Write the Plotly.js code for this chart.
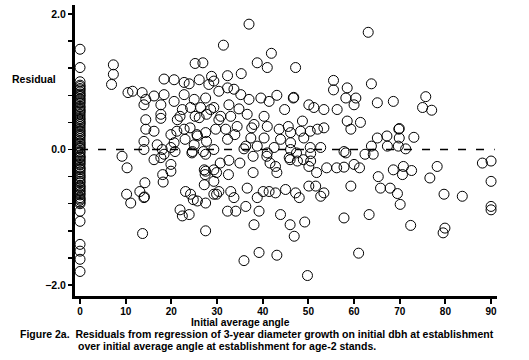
<!DOCTYPE html>
<html>
<head>
<meta charset="utf-8">
<script src="https://cdn.plot.ly/plotly-3.0.1.min.js"></script>
<style>
  html, body { margin: 0; padding: 0; background: #fff; }
  #chart { width: 529px; height: 360px; }
</style>
</head>
<body>
<div id="chart"></div>
<script>
// Points at an initial average angle of 0 (a dense stack in the reference)
const angleAtZero = [
  0,0,0,0,0,0,0,0,0,0, 0,0,0,0,0,0,0,0,0,0, 0,0,0,0,0,0,0,0,0,0, 0,0,0,0,0,0,0,0,0,0,
  0,0,0,0,0,0,0,0,0,0, 0,0,0,0,0,0,0,0,0,0, 0,0,0,0,0,0,0,0,0,0, 0,0,0,0,0,0,0,0
];
const residualAtZero = [
  1.48, 1.21, 1.00, 0.95, 0.93, 0.90, 0.88, 0.85, 0.82, 0.80, 0.78, 0.75, 0.73, 0.70, 0.68, 0.64, 0.62, 0.59, 0.57, 0.55,
  0.52, 0.49, 0.46, 0.44, 0.41, 0.39, 0.37, 0.34, 0.31, 0.28, 0.26, 0.23, 0.21, 0.19, 0.16, 0.13, 0.10, 0.08, 0.05, 0.03,
  0.01, -0.03, -0.05, -0.09, -0.11, -0.12, -0.15, -0.17, -0.20, -0.22, -0.26, -0.28, -0.30, -0.33, -0.36, -0.39, -0.41, -0.44, -0.47, -0.49,
  -0.53, -0.55, -0.57, -0.60, -0.62, -0.65, -0.67, -0.71, -0.73, -0.75, -0.78, -0.80, -0.91, -1.06, -1.40, -1.50, -1.62, -1.80
];

// Remaining stands: initial average angle (x) and residual (y)
const angle = [
  7.3, 7.3, 6.9, 9.2, 10.3, 10.2, 11.1, 13.1, 14.0, 14.1, 14.2, 13.7, 18.1, 18.2, 19.9, 19.9, 17.7, 16.2, 14.0, 18.0,
  18.4, 19.9, 21.9, 23.1, 24.2, 25.7, 27.5, 29.3, 23.9, 22.4, 27.5, 27.2, 27.5, 29.3, 27.2, 29.3, 24.6, 27.5, 29.3, 24.8,
  29.9, 20.8, 30.7, 29.9, 27.4, 24.5, 27.0, 21.2, 23.0, 25.6, 27.7, 24.1, 21.9, 25.2, 27.7, 18.4, 20.6, 22.8, 23.9, 25.2,
  26.9, 26.1, 28.8, 28.2, 11.5, 10.5, 13.6, 14.4, 16.2, 18.4, 14.0, 17.7, 20.6, 22.8, 25.0, 27.5, 22.4, 24.2, 26.4, 28.6,
  14.4, 17.7, 17.7, 21.3, 26.1, 14.4, 16.2, 19.9, 22.8, 25.7, 27.5, 29.7, 14.0, 16.9, 20.6, 25.0,
  37.0, 31.4, 41.9, 38.8, 41.0, 47.2, 55.5, 32.3, 35.3, 29.3, 30.4, 32.3, 33.7, 35.2, 37.0, 39.6, 43.1, 46.7, 46.8, 41.4,
  32.6, 34.8, 29.3, 30.8, 33.0, 36.6, 40.3, 44.8, 50.1, 51.2, 53.4, 56.3, 55.5, 58.5, 58.2, 60.4, 60.0, 48.7, 58.5, 59.3,
  53.4, 52.0, 48.3, 46.1, 43.6, 41.0, 38.1, 34.4, 31.9, 30.4, 37.4, 40.3, 43.9, 49.0, 52.7, 57.8, 36.3, 38.8, 42.5, 46.1,
  32.3, 33.9, 37.6, 45.6, 50.4, 47.4, 50.4, 46.0, 48.9, 54.0, 56.2, 51.8, 41.6, 43.1, 40.9, 37.9, 35.0, 37.9, 32.5, 32.6,
  41.0, 42.8, 45.8, 47.6, 50.5, 50.1, 57.8, 58.2, 60.0, 30.4, 33.0, 33.7, 36.6, 38.8, 41.4, 42.8, 45.0, 47.2, 48.0, 50.1,
  51.6, 53.4, 52.7, 59.3, 32.3, 34.1, 36.3, 39.2, 43.9, 46.0, 46.9, 49.2, 38.1, 57.8, 39.2, 35.9, 43.1, 49.8, 61.0, 35.9,
  46.1, 50.5, 40.1,
  63.1, 63.8, 65.1, 68.6, 75.7, 75.0, 77.0, 61.4, 65.1, 67.2, 69.8, 69.9, 69.9, 73.1, 63.8, 67.3, 69.7, 71.3, 62.4, 64.2,
  61.2, 68.6, 70.8, 72.6, 70.6, 78.2, 76.6, 88.1, 90.0, 90.0, 90.0, 90.0, 65.3, 65.8, 67.9, 69.5, 70.1, 63.3, 72.4, 79.7,
  83.7, 79.9, 79.5
];
const residual = [
  1.25, 1.11, 0.96, -0.10, -0.27, -0.66, -0.79, -0.62, -0.71, -0.70, -0.49, -1.24, -0.37, -0.48, -0.22, -0.32, -0.12, -0.15, 0.00, 0.00,
  -0.07, 0.03, -0.89, -0.62, -0.66, -0.76, -0.79, -0.66, -0.96, -0.98, -1.20, -0.30, -0.32, -0.30, -0.52, -0.47, -0.03, -0.07, 0.00, -0.74,
  -0.66, -0.03, -0.20, -0.34, -0.37, -0.05, -0.03, 0.27, 0.15, 0.22, 0.12, 0.32, 0.49, 0.49, 0.52, 1.04, 1.03, 0.99, 0.97, 1.27,
  1.28, 1.03, 1.08, 0.96, 0.86, 0.84, 0.84, 0.74, 0.79, 0.81, 0.66, 0.66, 0.71, 0.81, 0.74, 0.76, 0.59, 0.62, 0.62, 0.59,
  0.44, 0.52, 0.46, 0.44, 0.47, 0.30, 0.27, 0.22, 0.30, 0.20, 0.25, 0.30, 0.12, 0.07, 0.10, 0.07,
  1.85, 1.54, 1.42, 1.28, 1.21, 1.21, 1.02, 1.09, 1.12, 1.01, 0.86, 0.91, 0.89, 0.81, 0.74, 0.76, 0.80, 0.76, 0.77, 0.71,
  0.66, 0.60, 0.62, 0.49, 0.49, 0.52, 0.49, 0.59, 0.66, 0.62, 0.59, 0.59, 0.88, 0.91, 0.76, 0.76, 0.66, 0.42, 0.42, 0.30,
  0.32, 0.30, 0.27, 0.25, 0.30, 0.34, 0.37, 0.34, 0.30, 0.44, 0.17, 0.17, 0.15, 0.17, 0.03, -0.03, 0.05, 0.05, 0.03, 0.10,
  0.15, 0.22, 0.32, 0.34, 0.27, -0.05, 0.03, -0.15, -0.15, -0.27, -0.27, -0.34, -0.20, -0.34, -0.10, -0.10, -0.20, -0.34, -0.37, -0.16,
  -0.05, -0.25, -0.12, -0.17, -0.17, -0.25, -0.26, -0.05, -0.22, -0.62, -0.62, -0.71, -0.57, -0.71, -0.62, -0.64, -0.59, -0.64, -0.71, -0.54,
  -0.54, -0.64, -0.69, -0.54, -0.91, -0.91, -0.84, -0.91, -0.96, -1.11, -1.28, -1.07, -1.11, -1.01, -1.52, -1.64, -1.56, -1.86, -1.53, 0.01,
  0.00, -0.06, -0.62,
  1.73, 0.97, 0.69, 0.71, 0.78, 0.62, 0.58, 0.40, 0.17, 0.20, 0.30, 0.31, 0.17, 0.18, 0.05, 0.05, 0.05, 0.01, -0.07, -0.07,
  -0.27, -0.30, -0.25, -0.31, -0.37, -0.25, -0.42, -0.20, -0.17, -0.47, -0.84, -0.89, -0.40, -0.57, -0.57, -0.65, -0.81, -0.96, -1.12, -0.66,
  -0.69, -1.16, -1.23
];

const xTickVals = [0, 10, 20, 30, 40, 50, 60, 70, 80, 90];
const xTickText = ['0', '10', '20', '30', '40', '50', '60', '70', '80', '90'];
const yTickVals = [-2, 0, 2];
const yTickText = ['\u22122.0', '0.0', '2.0'];
const yMinorVals = [-1.6, -1.2, -0.8, -0.4, 0.4, 0.8, 1.2, 1.6];

const xTitle = 'Initial average angle';
const yTitle = 'Residual';
const caption1 = 'Figure 2a.  Residuals from regression of 3-year diameter growth on initial dbh at establishment';
const caption2 = 'over initial average angle at establishment for age-2 stands.';

const FONT = 'Liberation Sans, Arial, sans-serif';
const marker = { symbol: 'circle-open', size: 10, color: '#000', line: { width: 1, color: '#000' } };

const traces = [
  { type: 'scatter', mode: 'markers', x: angleAtZero, y: residualAtZero, marker: marker, hoverinfo: 'skip', cliponaxis: false },
  { type: 'scatter', mode: 'markers', x: angle, y: residual, marker: marker, hoverinfo: 'skip', cliponaxis: false }
];

const layout = {
  width: 529, height: 360,
  margin: { l: 75, r: 32, t: 5, b: 64, pad: 0 },
  paper_bgcolor: '#fff', plot_bgcolor: '#fff',
  showlegend: false,
  font: { family: FONT, color: '#000', size: 10 },
  xaxis: {
    range: [-1.1, 91.3],
    showgrid: false, zeroline: false,
    showline: true, linecolor: '#000', linewidth: 3,
    ticks: 'outside', ticklen: 5, tickwidth: 2, tickcolor: '#000',
    tickvals: xTickVals, ticktext: xTickText,
    ticklabelstandoff: -1,
    tickfont: { family: FONT, size: 10, color: '#000', weight: 'bold' },
    fixedrange: true
  },
  yaxis: {
    range: [-2.162, 2.133],
    showgrid: false, zeroline: false,
    showline: true, linecolor: '#000', linewidth: 3,
    ticks: 'outside', ticklen: 4, tickwidth: 1.5, tickcolor: '#000',
    tickvals: yTickVals, ticktext: yTickText,
    tickfont: { family: FONT, size: 10.5, color: '#000', weight: 'bold' },
    minor: { tickvals: yMinorVals, ticks: 'outside', ticklen: 4, tickwidth: 1.5, tickcolor: '#000', showgrid: false },
    fixedrange: true
  },
  shapes: [
    { type: 'line', xref: 'x', yref: 'y', x0: 0, x1: 90.8, y0: 0, y1: 0,
      line: { color: '#000', width: 1.3, dash: '8px,10px' }, layer: 'above' }
  ],
  annotations: [
    { xref: 'paper', yref: 'paper', x: -0.152, y: 0.7457, xanchor: 'left', yanchor: 'middle',
      text: yTitle, showarrow: false, borderpad: 0, font: { family: FONT, size: 10.5, color: '#000', weight: 'bold' } },
    { xref: 'paper', yref: 'paper', x: 0.272, y: -0.0925, xanchor: 'left', yanchor: 'middle',
      text: xTitle, showarrow: false, borderpad: 0, font: { family: FONT, size: 10.3, color: '#000', weight: 'bold' } },
    { xref: 'paper', yref: 'paper', x: -0.133, y: -0.1295, xanchor: 'left', yanchor: 'middle',
      text: caption1, showarrow: false, borderpad: 0, font: { family: FONT, size: 10.5, color: '#000', weight: 'bold' } },
    { xref: 'paper', yref: 'paper', x: 0.005, y: -0.172, xanchor: 'left', yanchor: 'middle',
      text: caption2, showarrow: false, borderpad: 0, font: { family: FONT, size: 10.5, color: '#000', weight: 'bold' } }
  ]
};

Plotly.newPlot('chart', traces, layout, { displayModeBar: false, staticPlot: true });
</script>
</body>
</html>
